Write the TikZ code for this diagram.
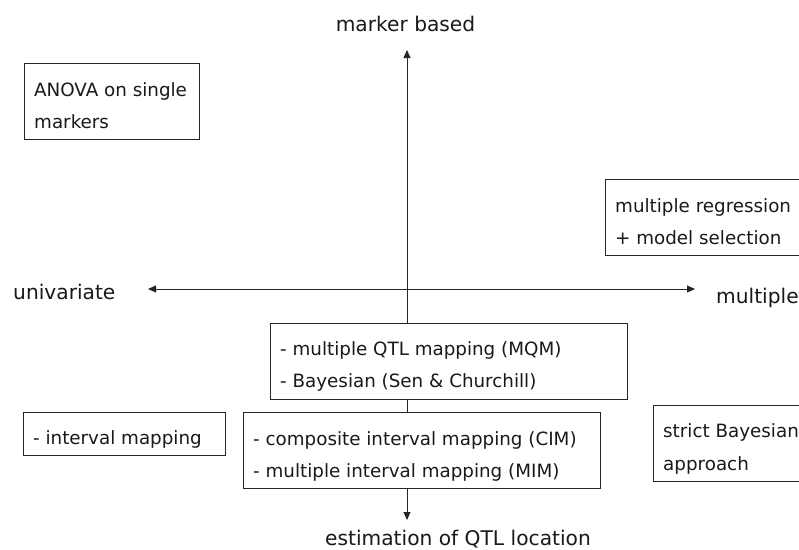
\documentclass[tikz,border=0pt]{standalone}
\usepackage{fontspec}
\setmainfont{DejaVu Sans}
\usetikzlibrary{arrows.meta}
\begin{document}
\begin{tikzpicture}[x=1pt,y=-1pt,
  boxstyle/.style={draw=black!85,line width=0.9pt,rectangle,inner sep=0pt,anchor=north west},
  boxtext/.style={anchor=base west,inner sep=0pt,font=\fontsize{18.3}{22}\selectfont,text=black!90},
  axislabel/.style={inner sep=0pt,font=\fontsize{20.2}{24}\selectfont,text=black!90},
  axis/.style={draw=black!85,line width=0.9pt},
  tip/.style={-{Triangle[length=8pt,width=7pt]}}]
\clip (0,0) rectangle (799,549);
\fill[white] (0,0) rectangle (799,549);
% boxes
\node[boxstyle,minimum width=175pt,minimum height=76pt] (anova) at (24,63) {};
\node[boxtext] (anovaA) at (34,96) {ANOVA on single};
\node[boxtext] (anovaB) at (34,128) {markers};

\node[boxstyle,minimum width=215pt,minimum height=76pt] (mr) at (605,179) {};
\node[boxtext] (mrA) at (615,212) {multiple regression};
\node[boxtext] (mrB) at (615,244) {+ model selection};

\node[boxstyle,minimum width=357pt,minimum height=76pt] (mqm) at (270,323) {};
\node[boxtext] (mqmA) at (280,355) {- multiple QTL mapping (MQM)};
\node[boxtext] (mqmB) at (280,387) {- Bayesian (Sen \& Churchill)};

\node[boxstyle,minimum width=202pt,minimum height=43pt] (im) at (23,412) {};
\node[boxtext] (imA) at (33,444) {- interval mapping};

\node[boxstyle,minimum width=357pt,minimum height=76pt] (cim) at (243,412) {};
\node[boxtext] (cimA) at (253,445) {- composite interval mapping (CIM)};
\node[boxtext] (cimB) at (253,477) {- multiple interval mapping (MIM)};

\node[boxstyle,minimum width=170pt,minimum height=76pt] (sb) at (653,405) {};
\node[boxtext] (sbA) at (663,437) {strict Bayesian};
\node[boxtext] (sbB) at (663,470) {approach};

% axis labels
\node[axislabel,anchor=base] (top) at (405.5,31) {marker based};
\node[axislabel,anchor=base west] (left) at (13,299) {univariate};
\node[axislabel,anchor=base west] (right) at (716,303) {multiple};
\node[axislabel,anchor=base west] (bottom) at (325,545) {estimation of QTL location};

% axis end points
\coordinate (ytop) at (407,50);
\coordinate (ybot) at (407,520);
\coordinate (xleft) at (148,289);
\coordinate (xright) at (695,289);

% connectors
\draw[axis,tip] (mqm.north -| ytop) -- (ytop);
\draw[axis] (mqm.south -| ytop) -- (cim.north -| ytop);
\draw[axis,tip] (cim.south -| ybot) -- (ybot);
\draw[axis,{Triangle[length=8pt,width=7pt]}-{Triangle[length=8pt,width=7pt]}] (xleft) -- (xright);
\end{tikzpicture}
\end{document}
